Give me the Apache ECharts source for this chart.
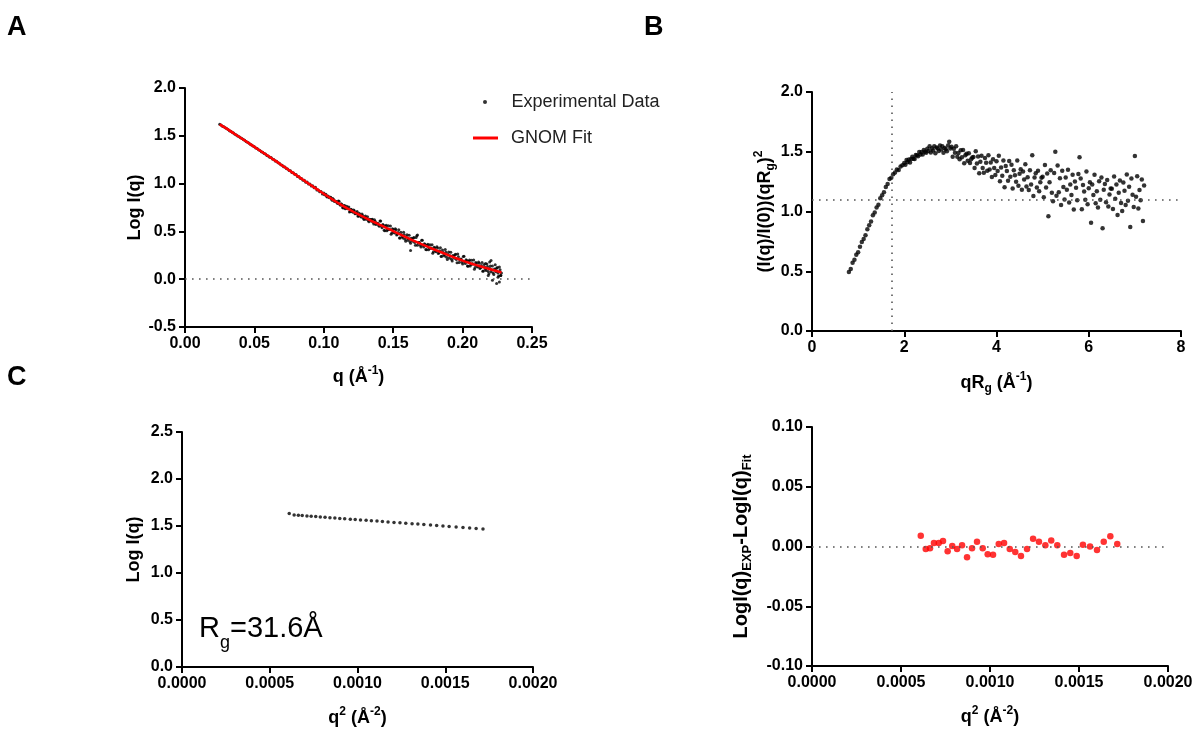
<!DOCTYPE html>
<html><head><meta charset="utf-8">
<script src="https://cdn.jsdelivr.net/npm/echarts@6/dist/echarts.min.js"></script>
<style>html,body{margin:0;padding:0;background:#fff}#c{width:1198px;height:731px}</style>
</head><body><div id="c"></div>
<script>
// ---------- Panel A: log I(q) vs q ----------
const qA = [0.025,0.026,0.027,0.028,0.029,0.030,0.031,0.032,0.033,0.034,0.035,0.036,0.037,0.038,0.039,0.040,0.041,0.042,0.043,0.044,0.045,0.046,0.047,0.048,0.049,0.050,0.051,0.052,0.053,0.054,0.055,0.056,0.057,0.058,0.059,0.060,0.061,0.062,0.063,0.064,0.065,0.066,0.067,0.068,0.069,0.070,0.071,0.072,0.073,0.074,0.075,0.076,0.077,0.078,0.079,0.080,0.081,0.082,0.083,0.084,0.085,0.086,0.087,0.088,0.089,0.090,0.091,0.092,0.093,0.094,0.095,0.096,0.097,0.098,0.099,0.100,0.101,0.102,0.103,0.104,0.105,0.106,0.107,0.108,0.109,0.110,0.111,0.112,0.113,0.114,0.115,0.116,0.117,0.118,0.119,0.120,0.121,0.122,0.123,0.124,0.125,0.126,0.127,0.128,0.129,0.130,0.131,0.132,0.133,0.134,0.135,0.136,0.137,0.138,0.139,0.140,0.141,0.142,0.143,0.144,0.145,0.146,0.147,0.148,0.149,0.150,0.151,0.152,0.153,0.154,0.155,0.156,0.157,0.158,0.159,0.160,0.161,0.162,0.163,0.164,0.165,0.166,0.167,0.168,0.169,0.170,0.171,0.172,0.173,0.174,0.175,0.176,0.177,0.178,0.179,0.180,0.181,0.182,0.183,0.184,0.185,0.186,0.187,0.188,0.189,0.190,0.191,0.192,0.193,0.194,0.195,0.196,0.197,0.198,0.199,0.200,0.201,0.202,0.203,0.204,0.205,0.206,0.207,0.208,0.209,0.210,0.211,0.212,0.213,0.214,0.215,0.216,0.217,0.218,0.219,0.220,0.221,0.222,0.223,0.224,0.225,0.226,0.227,0.228,
  0.1625,0.1675,0.2165,0.2185,0.2195,0.2205,0.2215,0.2235,0.2245,0.2255,0.2265,0.2275];
const logIA = [1.620,1.612,1.601,1.594,1.583,1.576,1.566,1.554,1.547,1.536,1.528,1.516,1.509,1.498,1.491,1.479,1.471,1.460,1.453,1.440,1.433,1.424,1.411,1.404,1.392,1.386,1.373,1.367,1.353,1.347,1.334,1.329,1.315,1.309,1.295,1.290,1.276,1.272,1.257,1.253,1.237,1.233,1.218,1.214,1.197,1.193,1.177,1.174,1.157,1.153,1.136,1.134,1.116,1.114,1.097,1.094,1.075,1.075,1.056,1.054,1.036,1.035,1.014,1.016,0.995,0.997,0.975,
  0.978,0.957,0.963,0.932,0.933,0.916,0.918,0.891,0.901,0.884,0.867,0.869,0.853,0.856,0.826,0.834,0.817,0.811,0.792,0.816,0.773,0.782,0.746,0.772,0.744,0.741,0.755,0.709,0.726,0.700,0.716,0.686,0.708,0.658,0.674,0.651,0.666,0.624,0.660,0.635,0.613,0.628,0.608,0.626,0.577,0.605,0.582,0.583,0.554,0.609,0.539,0.565,0.508,0.564,0.521,0.523,0.557,0.483,0.521,0.483,0.516,0.469,0.516,0.432,0.466,0.432,0.466,0.396,0.466,0.427,0.394,0.428,0.398,0.437,0.355,0.455,0.378,0.384,0.338,0.408,0.338,0.364,0.308,0.365,0.323,0.326,0.361,0.287,0.326,0.287,0.326,0.276,0.330,0.239,0.278,0.242,0.282,0.206,0.285,0.244,0.209,0.248,0.218,0.262,0.172,0.236,0.201,0.210,0.160,0.240,0.165,0.195,0.135,0.200,0.155,0.161,0.201,0.122,0.167,0.128,0.168,0.119,0.174,0.085,0.126,0.092,0.132,0.058,0.139,0.100,0.066,0.106,0.077,0.123,0.034,0.100,0.065,
  0.300,0.462,0.165,0.040,0.180,0.195,-0.010,0.150,-0.045,0.020,-0.030,0.040];
// interleaved readings between the points above (q = 0.1005 ... 0.2275)
const qA2 = [0.1005,0.1015,0.1025,0.1035,0.1045,0.1055,0.1065,0.1075,0.1085,0.1095,0.1105,0.1115,0.1125,0.1135,0.1145,0.1155,0.1165,0.1175,0.1185,0.1195,0.1205,0.1215,0.1225,0.1235,0.1245,0.1255,0.1265,0.1275,0.1285,0.1295,0.1305,0.1315,0.1325,0.1335,0.1345,0.1355,0.1365,0.1375,0.1385,0.1395,0.1405,0.1415,0.1425,0.1435,0.1445,0.1455,0.1465,0.1475,0.1485,0.1495,0.1505,0.1515,0.1525,0.1535,0.1545,0.1555,0.1565,0.1575,0.1585,0.1595,0.1605,0.1615,0.1625,0.1635,0.1645,0.1655,0.1665,0.1675,0.1685,0.1695,0.1705,0.1715,0.1725,0.1735,0.1745,0.1755,0.1765,0.1775,0.1785,0.1795,0.1805,0.1815,0.1825,0.1835,0.1845,0.1855,0.1865,0.1875,0.1885,0.1895,0.1905,0.1915,0.1925,0.1935,0.1945,0.1955,0.1965,0.1975,0.1985,0.1995,0.2005,0.2015,0.2025,0.2035,0.2045,0.2055,0.2065,0.2075,0.2085,0.2095,0.2105,0.2115,0.2125,0.2135,0.2145,0.2155,0.2165,0.2175,0.2185,0.2195,0.2205,0.2215,0.2225,0.2235,0.2245,0.2255,0.2265,0.2275];
const logIA2 = [0.883,0.889,0.859,0.862,0.858,0.838,0.845,0.815,0.815,0.800,0.818,0.785,0.789,0.750,0.769,0.738,0.763,0.737,0.703,0.733,0.707,0.725,0.685,0.695,0.660,0.690,0.660,0.683,0.638,0.648,0.626,0.652,0.602,0.622,0.625,0.595,0.621,0.571,0.584,0.565,0.608,0.556,0.572,0.512,0.554,0.506,0.558,0.520,0.469,0.529,0.490,0.529,0.463,0.488,0.431,0.492,0.444,0.492,0.418,0.442,0.408,0.460,0.377,0.420,0.431,0.385,0.437,0.354,0.383,0.354,0.407,0.355,0.371,0.311,0.355,0.308,0.361,0.323,0.272,0.334,0.295,0.339,0.269,0.298,0.237,0.306,0.255,0.310,0.229,0.258,0.222,0.282,0.191,0.241,0.255,0.205,0.264,0.174,0.208,0.178,0.238,0.183,0.203,0.138,0.188,0.138,0.198,0.159,0.104,0.175,0.135,0.181,0.111,0.142,0.082,0.153,0.104,0.160,0.080,0.111,0.077,0.138,0.049,0.099,0.115,0.066,0.127,0.038];
const fitQ = [0.025,0.03,0.035,0.04,0.045,0.05,0.055,0.06,0.065,0.07,0.075,0.08,0.085,0.09,0.095,0.1,0.105,0.11,0.115,0.12,0.125,0.13,0.135,0.14,0.145,0.15,0.155,0.16,0.165,0.17,0.175,0.18,0.185,0.19,0.195,0.2,0.205,0.21,0.215,0.22,0.225,0.228];
const fitLogI = [1.620,1.575,1.527,1.480,1.432,1.384,1.336,1.288,1.240,1.190,1.140,1.090,1.040,0.990,0.942,0.893,0.846,0.800,0.757,0.716,0.678,0.642,0.606,0.571,0.537,0.503,0.468,0.434,0.401,0.369,0.338,0.308,0.279,0.250,0.222,0.195,0.170,0.147,0.125,0.104,0.083,0.070];
const zeroRefA = 0;

// ---------- Panel B: dimensionless Kratky ----------
const qRgB = [0.8,0.84,0.88,0.92,0.96,1,1.04,1.08,1.12,1.16,1.2,1.24,1.28,1.32,1.36,1.4,1.44,1.48,1.52,1.56,1.6,1.64,1.68,1.72,1.76,1.8,1.84,1.88,1.92,1.96,
  2,2.025,2.05,2.075,2.1,2.125,2.15,2.175,2.2,2.225,2.25,2.275,2.3,2.325,2.35,2.375,2.4,2.425,2.45,2.475,2.5,2.525,2.55,2.575,2.6,2.625,2.65,2.675,2.7,2.725,2.75,2.775,2.8,2.825,2.85,2.875,2.9,2.925,2.95,2.975,
  3,3.025,3.05,3.075,3.1,3.125,3.15,3.175,3.2,3.225,3.25,3.275,3.3,3.325,3.35,3.375,3.4,3.425,3.45,3.475,3.5,3.525,3.55,3.575,3.6,3.625,3.65,3.675,3.7,3.725,3.75,3.775,3.8,3.825,3.85,3.875,3.9,3.925,3.95,3.975,
  4,4.025,4.05,4.075,4.1,4.125,4.15,4.175,4.2,4.225,4.25,4.275,4.3,4.325,4.35,4.375,4.4,4.425,4.45,4.475,4.5,4.525,4.55,4.575,4.6,4.625,4.65,4.675,4.7,4.725,4.75,4.775,4.8,4.825,4.85,4.875,4.9,4.925,4.95,4.975,
  5,5.025,5.05,5.075,5.1,5.125,5.15,5.175,5.2,5.225,5.25,5.275,5.3,5.325,5.35,5.375,5.4,5.425,5.45,5.475,5.5,5.525,5.55,5.575,5.6,5.625,5.65,5.675,5.7,5.725,5.75,5.775,5.8,5.825,5.85,5.875,5.9,5.925,5.95,5.975,
  6,6.025,6.05,6.075,6.1,6.125,6.15,6.175,6.2,6.225,6.25,6.275,6.3,6.325,6.35,6.375,6.4,6.425,6.45,6.475,6.5,6.525,6.55,6.575,6.6,6.625,6.65,6.675,6.7,6.725,6.75,6.775,6.8,6.825,6.85,6.875,6.9,6.925,6.95,6.975,
  7,7.025,7.05,7.075,7.1,7.125,7.15,7.175,7.2];
const kratkyB = [0.493,0.519,0.571,0.596,0.639,0.660,0.705,0.745,0.769,0.801,0.851,0.885,0.916,0.968,0.991,1.034,1.057,1.110,1.136,1.162,1.205,1.231,1.273,1.283,1.312,1.327,1.351,1.348,1.376,1.387,
  1.406,1.392,1.431,1.415,1.435,1.411,1.440,1.458,1.442,1.440,1.473,1.471,1.463,1.498,1.478,1.497,1.477,1.514,1.501,1.492,1.526,1.507,1.546,1.493,1.527,1.510,1.546,1.487,1.536,1.527,1.506,1.552,1.518,1.545,1.491,1.532,1.520,1.505,1.553,1.583,
  1.527,1.541,1.458,1.526,1.492,1.547,1.459,1.490,1.438,1.512,1.453,1.515,1.403,1.470,1.484,1.425,1.487,1.405,1.438,1.452,1.457,1.363,1.504,1.401,1.460,1.321,1.417,1.467,1.364,1.324,1.447,1.407,1.340,1.471,1.351,1.410,1.289,1.438,1.363,1.305,
  1.420,1.339,1.466,1.254,1.368,1.300,1.427,1.202,1.381,1.339,1.258,1.423,1.290,1.391,1.193,1.345,1.303,1.248,1.427,1.215,1.316,1.353,1.181,1.335,1.267,1.395,1.210,1.286,1.179,1.346,1.226,1.470,1.130,1.284,1.320,1.201,1.341,1.170,1.245,1.282,
  1.291,1.119,1.389,1.200,1.317,0.960,1.245,1.345,1.156,1.086,1.322,1.500,1.131,1.384,1.161,1.278,1.055,1.342,1.204,1.100,1.285,1.181,1.349,1.075,1.226,1.139,1.307,1.016,1.252,1.199,1.095,1.314,1.455,1.276,1.019,1.221,1.168,1.098,1.334,1.060,
  1.194,1.244,0.905,1.225,1.139,1.308,1.069,1.170,1.033,1.253,1.099,1.285,0.860,1.181,1.231,1.077,1.263,1.041,1.142,1.192,1.191,1.021,1.293,1.106,1.225,0.970,1.157,1.259,1.072,1.004,1.242,1.174,1.055,1.310,1.089,1.208,0.870,1.276,1.140,1.038,
  1.465,1.124,1.296,1.025,1.179,1.095,1.267,0.920,1.218];
const guinierQRg = 1.73;   // qRg = sqrt(3)
const guinierPeak = 1.1;   // 3/e

// ---------- Panels C & D: Guinier region and residuals ----------
const q2CD = [0.000611,0.000639,0.000663,0.000685,0.000712,0.000736,0.000762,0.000788,0.000815,0.000843,0.000871,0.000899,0.000927,0.000959,0.000987,0.001017,0.001049,0.001079,0.001111,0.001142,0.001174,0.001208,0.001242,0.001275,0.001311,0.001344,0.001378,0.001416,0.001451,0.001487,0.001522,0.001562,0.001601,0.001639,0.001676,0.001715];
const logIC = [1.632,1.617,1.614,1.611,1.607,1.604,1.600,1.596,1.593,1.589,1.585,1.581,1.577,1.573,1.569,1.565,1.560,1.556,1.552,1.547,1.543,1.538,1.534,1.529,1.524,1.520,1.515,1.510,1.505,1.500,1.495,1.490,1.484,1.479,1.474,1.468];
const residD = [0.009,-0.002,-0.0015,0.003,0.003,0.0045,-0.004,0.0005,-0.002,0.001,-0.009,-0.0015,0.004,-0.0015,-0.0065,-0.007,0.002,0.003,-0.002,-0.0045,-0.008,-0.002,0.0065,0.004,0.001,0.005,0.001,-0.007,-0.0055,-0.008,0.0015,0,-0.003,0.004,0.0085,0.002];
const zeroRefD = 0;
const rgText = '31.6Å';

const FF = '"Liberation Sans", Arial, Helvetica, sans-serif';
const zip = (xs, ys) => xs.map((x, i) => [x, ys[i]]);
const tok = (size, extra) => Object.assign({fontSize: size, fontWeight: 'bold', fontFamily: FF, color: '#000', lineHeight: 24}, extra || {});
const nameRich = {
  b: tok(18),
  sup: tok(12, {verticalAlign: 'top', lineHeight: 14}),
  sub: tok(12, {verticalAlign: 'bottom', lineHeight: 14})
};
const nameRichD = {
  b: tok(20, {lineHeight: 26}),
  sub: tok(13, {verticalAlign: 'bottom', lineHeight: 15})
};
const tickLabel = (fmt) => ({color: '#000', fontSize: 16, fontWeight: 'bold', fontFamily: FF, margin: 9, formatter: fmt});
function axis(o) {
  return Object.assign({
    type: 'value',
    nameLocation: 'middle',
    nameTextStyle: {rich: nameRich},
    axisLine: {show: true, onZero: false, lineStyle: {color: '#000', width: 2}},
    axisTick: {show: true, length: 6, lineStyle: {color: '#000', width: 2}},
    splitLine: {show: false}
  }, o);
}
const dotted = (data) => ({
  silent: true, symbol: ['none', 'none'], label: {show: false},
  lineStyle: {color: '#555', width: 1.6, type: [1.6, 5.4]},
  emphasis: {disabled: true}, animation: false, data: data
});
const letter = (t, l, tp) => ({text: t, left: l, top: tp, padding: 0,
  textStyle: {fontSize: 27, fontWeight: 'bold', fontFamily: FF, color: '#000'}});

const chart = echarts.init(document.getElementById('c'), null, {renderer: 'canvas'});
chart.setOption({
  animation: false,
  backgroundColor: '#fff',
  title: [
    letter('A', 7, 14), letter('B', 644, 14), letter('C', 7, 364),
    {text: '{r|R}{s|g}{r|=' + rgText + '}', left: 199, top: 606, padding: 0,
     textStyle: {fontWeight: 'normal', rich: {
       r: {fontSize: 29, fontWeight: 'normal', fontFamily: FF, color: '#000', lineHeight: 46},
       s: {fontSize: 18, fontWeight: 'normal', fontFamily: FF, color: '#000', lineHeight: 18, verticalAlign: 'bottom'}
     }}}
  ],
  legend: [
    {data: [{name: 'Experimental Data', icon: 'circle'}], left: 478, top: 88, itemWidth: 25, itemHeight: 4,
     selectedMode: false, textStyle: {fontSize: 18, color: '#222', fontFamily: FF, padding: [0, 0, 0, 9]}},
    {data: [{name: 'GNOM Fit', icon: 'rect'}], left: 468, top: 124, itemWidth: 25, itemHeight: 3,
     selectedMode: false, textStyle: {fontSize: 18, color: '#222', fontFamily: FF, padding: [0, 0, 0, 8]}}
  ],
  grid: [
    {left: 185, top: 88, width: 347, height: 239},
    {left: 812, top: 92, width: 369, height: 239},
    {left: 182, top: 432, width: 351, height: 235},
    {left: 812, top: 427, width: 356, height: 239}
  ],
  xAxis: [
    axis({gridIndex: 0, min: 0, max: 0.25, interval: 0.05, name: '{b|q (Å}{sup|-1}{b|)}', nameGap: 38,
          axisLabel: tickLabel(v => v.toFixed(2))}),
    axis({gridIndex: 1, min: 0, max: 8, interval: 2, name: '{b|qR}{sub|g}{b| (Å}{sup|-1}{b|)}', nameGap: 40,
          axisLabel: tickLabel(v => v.toFixed(0))}),
    axis({gridIndex: 2, min: 0, max: 0.002, interval: 0.0005, name: '{b|q}{sup|2}{b| (Å}{sup|-2}{b|)}', nameGap: 39,
          axisLabel: tickLabel(v => v.toFixed(4))}),
    axis({gridIndex: 3, min: 0, max: 0.002, interval: 0.0005, name: '{b|q}{sup|2}{b| (Å}{sup|-2}{b|)}', nameGap: 39,
          axisLabel: tickLabel(v => v.toFixed(4))})
  ],
  yAxis: [
    axis({gridIndex: 0, min: -0.5, max: 2, interval: 0.5, name: '{b|Log I(q)}', nameGap: 38,
          axisLabel: tickLabel(v => v.toFixed(1))}),
    axis({gridIndex: 1, min: 0, max: 2, interval: 0.5, name: '{b|(I(q)/I(0))(qR}{sub|g}{b|)}{sup|2}', nameGap: 34,
          axisLabel: tickLabel(v => v.toFixed(1))}),
    axis({gridIndex: 2, min: 0, max: 2.5, interval: 0.5, name: '{b|Log I(q)}', nameGap: 36,
          axisLabel: tickLabel(v => v.toFixed(1))}),
    axis({gridIndex: 3, min: -0.1, max: 0.1, interval: 0.05, name: '{b|LogI(q)}{sub|EXP}{b|-LogI(q)}{sub|Fit}', nameGap: 58,
          nameTextStyle: {rich: nameRichD}, axisLabel: tickLabel(v => v.toFixed(2))})
  ],
  series: [
    {name: 'Experimental Data', type: 'scatter', xAxisIndex: 0, yAxisIndex: 0, symbolSize: 3,
     itemStyle: {color: '#000'}, data: zip(qA, logIA).concat(zip(qA2, logIA2)),
     markLine: dotted([{yAxis: zeroRefA}]), z: 2},
    {name: 'GNOM Fit', type: 'line', xAxisIndex: 0, yAxisIndex: 0, showSymbol: false, symbol: 'none', smooth: 0.3,
     lineStyle: {color: '#ff0000', width: 2.5}, itemStyle: {color: '#ff0000'}, data: zip(fitQ, fitLogI), z: 5},
    {name: 'Kratky', type: 'scatter', xAxisIndex: 1, yAxisIndex: 1, symbolSize: 4.5,
     itemStyle: {color: '#000'}, data: zip(qRgB, kratkyB),
     markLine: dotted([{xAxis: guinierQRg}, {yAxis: guinierPeak}])},
    {name: 'Guinier', type: 'scatter', xAxisIndex: 2, yAxisIndex: 2, symbolSize: 3.5,
     itemStyle: {color: '#000'}, data: zip(q2CD, logIC)},
    {name: 'Residuals', type: 'scatter', xAxisIndex: 3, yAxisIndex: 3, symbolSize: 6.5,
     itemStyle: {color: '#ff0000'}, data: zip(q2CD, residD), markLine: dotted([{yAxis: zeroRefD}])}
  ]
});
</script>
</body></html>
